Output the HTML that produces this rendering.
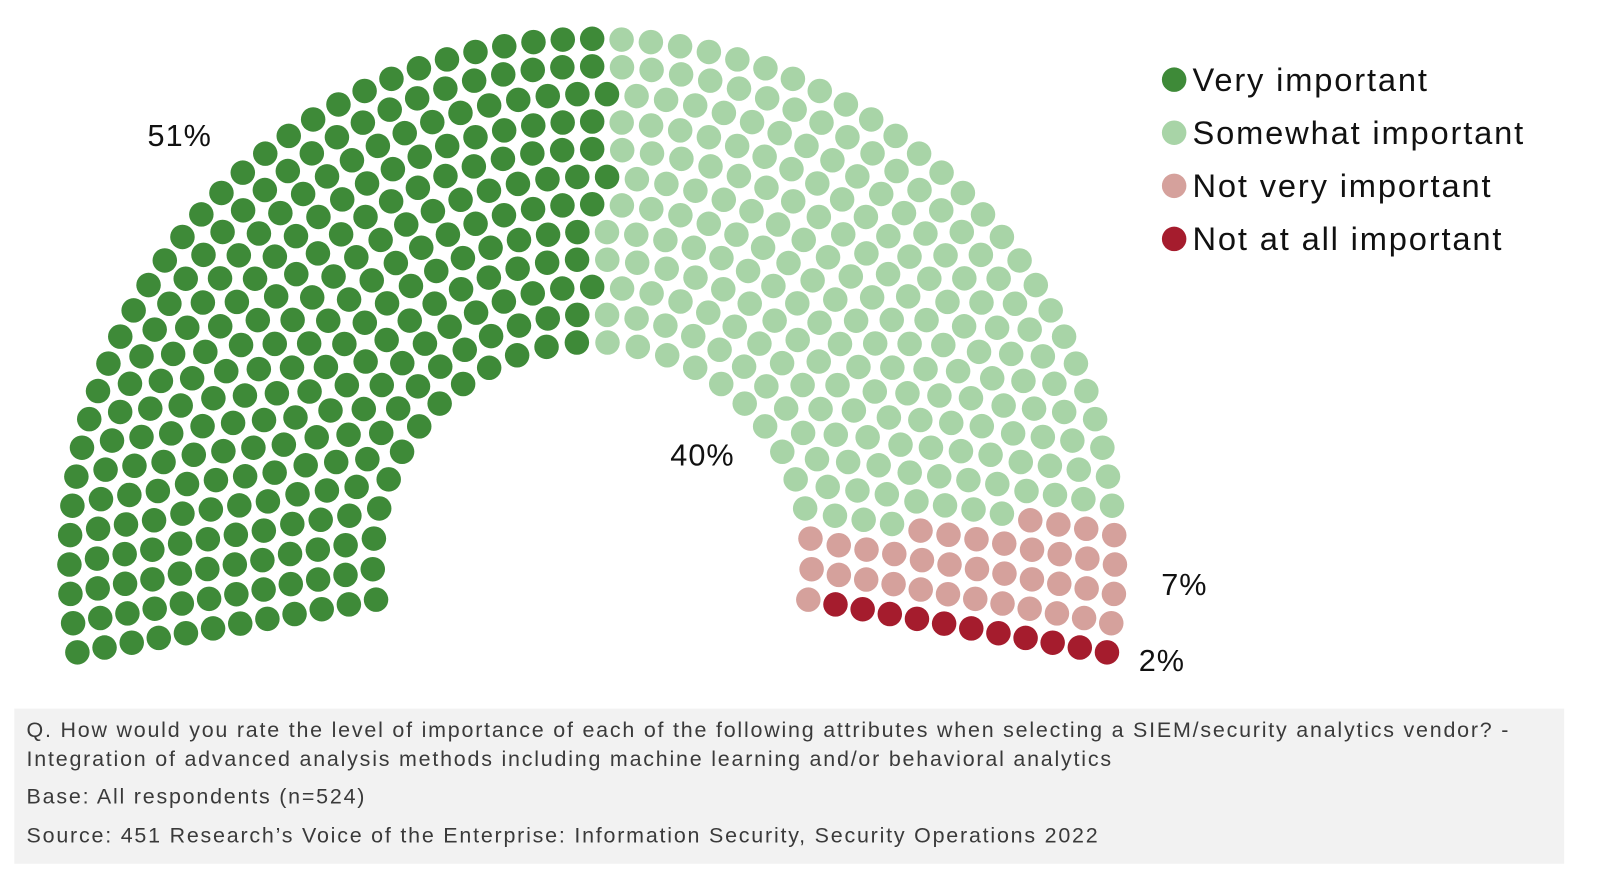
<!DOCTYPE html>
<html><head><meta charset="utf-8">
<style>
html,body{margin:0;padding:0;background:#fff;}
body{width:1600px;height:878px;position:relative;overflow:hidden;font-family:"Liberation Sans",sans-serif;}
#wrap{position:absolute;left:0;top:0;width:1568px;height:860px;transform:scale(1.021);transform-origin:0 0;}
#chart{position:absolute;left:0;top:0;}
.foot{position:absolute;left:14px;top:694px;width:1518px;height:152px;background:#f2f2f2;color:#3a3a3a;font-size:21px;letter-spacing:1.75px;}
.foot div{position:absolute;left:12px;white-space:nowrap;}
</style></head>
<body>
<div id="wrap">
<svg id="chart" width="1568" height="690" xmlns="http://www.w3.org/2000/svg">
  <g id="dots"></g>
  <g id="labels"></g>
  <g id="legend"></g>
</svg>
<div class="foot">
  <div style="top:10px">Q. How would you rate the level of importance of each of the following attributes when selecting a SIEM/security analytics vendor? -</div>
  <div style="top:38px">Integration of advanced analysis methods including machine learning and/or behavioral analytics</div>
  <div style="top:75px">Base: All respondents (n=524)</div>
  <div style="top:113px">Source: 451 Research’s Voice of the Enterprise: Information Security, Security Operations 2022</div>
</div>
</div>
<script>
const categories = ["Very important","Somewhat important","Not very important","Not at all important"];
const values = [51,40,7,2];
const valueLabels = ["51%","40%","7%","2%"];
const colors = ["#3e8a38","#a8d4a7","#d5a19c","#a51c2d"];

const NS="http://www.w3.org/2000/svg";
const cx=580, cy=550, rIn=215, rOut=512, rows=12, startA=190, endA=-10, spacing=28.5, dotR=12;
const span=(startA-endA)*Math.PI/180;
let dots=[];
for(let i=0;i<rows;i++){
  const r=rIn+(rOut-rIn)*i/(rows-1);
  const n=Math.round(r*span/spacing);
  for(let j=0;j<n;j++){
    const a=(startA-(startA-endA)*j/(n-1))*Math.PI/180;
    dots.push({a:a,x:cx+r*Math.cos(a),y:cy-r*Math.sin(a)});
  }
}
dots.sort((p,q)=>q.a-p.a);
const total=values.reduce((s,v)=>s+v,0);
let bounds=[],acc=0;
values.forEach(v=>{acc+=v;bounds.push(Math.round(dots.length*acc/total));});
const g=document.getElementById('dots');
dots.forEach((d,k)=>{
  let c=0;while(c<bounds.length-1&&k>=bounds[c])c++;
  const el=document.createElementNS(NS,'circle');
  el.setAttribute('cx',d.x.toFixed(1));el.setAttribute('cy',d.y.toFixed(1));el.setAttribute('r',dotR);
  el.setAttribute('fill',colors[c]);
  
  
  g.appendChild(el);
});
const labelPos=[[176,143],[688,456],[1160,583],[1138,657]];
const lg=document.getElementById('labels');
valueLabels.forEach((t,i)=>{
  const el=document.createElementNS(NS,'text');
  el.setAttribute('x',labelPos[i][0]);el.setAttribute('y',labelPos[i][1]);
  el.setAttribute('text-anchor','middle');el.setAttribute('font-size','30');el.setAttribute('fill','#111');
  el.setAttribute('letter-spacing','1');
  el.setAttribute('font-family','Liberation Sans, sans-serif');
  el.textContent=t;
  
  
  lg.appendChild(el);
});
const leg=document.getElementById('legend');
categories.forEach((t,i)=>{
  const y=78+52*i;
  const c=document.createElementNS(NS,'circle');
  c.setAttribute('cx',1150);c.setAttribute('cy',y);c.setAttribute('r',12);c.setAttribute('fill',colors[i]);
  
  
  leg.appendChild(c);
  const tx=document.createElementNS(NS,'text');
  tx.setAttribute('x',1168);tx.setAttribute('y',y+11);tx.setAttribute('font-size','32');tx.setAttribute('fill','#111');
  tx.setAttribute('letter-spacing','1.8');
  tx.setAttribute('font-family','Liberation Sans, sans-serif');
  tx.textContent=t;
  
  
  leg.appendChild(tx);
});
</script>
</body></html>
